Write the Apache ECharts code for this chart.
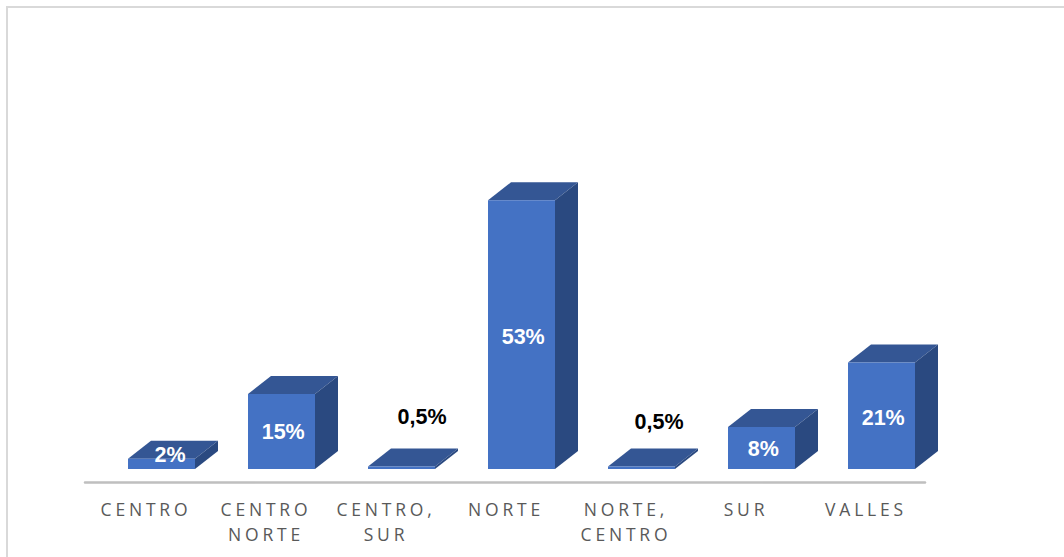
<!DOCTYPE html>
<html>
<head>
<meta charset="utf-8">
<script src="https://cdn.jsdelivr.net/npm/echarts@6/dist/echarts.min.js"></script>
<style>
html,body{margin:0;padding:0;background:#fff;}
#chart{width:1064px;height:557px;}
svg text[fill="#595959"]{letter-spacing:3.8px;}
</style>
</head>
<body>
<div id="chart"></div>
<script>
var categories = ['CENTRO', 'CENTRO NORTE', 'CENTRO, SUR', 'NORTE', 'NORTE, CENTRO', 'SUR', 'VALLES'];
var values = [2, 14.8, 0.5, 53, 0.5, 8.3, 21];

var frontColor = '#4472C4', topColor = '#345694', sideColor = '#2A4980';
var barWidth = 67, depthX = 23, depthY = 18, barShiftX = 16.5;
var labelNudge = [[8.5, -9], [1.7, 1], [20.5, -51], [1.7, 2], [17.5, -46], [1.7, 1], [1.7, 2]];

function label(v) { return (v < 1 ? String(v).replace('.', ',') : Math.round(v)) + '%'; }

function renderBar(params, api) {
  var i = api.value(0), v = api.value(1);
  var base = api.coord([i, 0]), top = api.coord([i, v]);
  var l = base[0] + barShiftX - barWidth / 2, r = l + barWidth;
  var y0 = base[1], y1 = top[1];
  var nudge = labelNudge[i];
  var dark = v < 1;
  return {
    type: 'group',
    children: [
      { type: 'polygon', shape: { points: [[l, y1], [r, y1], [r + depthX, y1 - depthY], [l + depthX, y1 - depthY]] }, style: { fill: topColor } },
      { type: 'polygon', shape: { points: [[r, y0], [r, y1], [r + depthX, y1 - depthY], [r + depthX, y0 - depthY]] }, style: { fill: sideColor } },
      { type: 'rect', shape: { x: l, y: y1, width: barWidth, height: y0 - y1 }, style: { fill: frontColor } },
      { type: 'text', x: (l + r) / 2 + nudge[0], y: (y0 + y1) / 2 + nudge[1], style: {
          text: label(v), fill: dark ? '#000000' : '#ffffff', align: 'center', verticalAlign: 'middle',
          font: 'bold 21.5px "Liberation Sans", Arial, sans-serif' } }
    ]
  };
}

var chart = echarts.init(document.getElementById('chart'), null, { renderer: 'svg' });
chart.setOption({
  animation: false,
  backgroundColor: '#ffffff',
  graphic: [
    { type: 'polyline', shape: { points: [[7, 557], [7, 7], [1064, 7]] }, style: { stroke: '#d9d9d9', lineWidth: 2, fill: 'none' }, silent: true }
  ],
  grid: { left: 85, right: 139, bottom: 88, top: 164.8 },
  xAxis: {
    type: 'category',
    data: categories,
    offset: 13,
    axisTick: { show: false },
    axisLine: { show: true, onZero: false, lineStyle: { color: '#bfbfbf', width: 2.5 } },
    axisLabel: {
      color: '#595959', fontFamily: '"Open Sans", sans-serif', fontSize: 17.5, lineHeight: 25, margin: 14, interval: 0,
      padding: [0, 0, 0, 2],
      formatter: function (s) { return s.replace(' ', '\n'); }
    }
  },
  yAxis: { type: 'value', min: 0, max: 60, show: false },
  series: [{
    type: 'custom',
    renderItem: renderBar,
    encode: { x: 0, y: 1 },
    data: values.map(function (v, i) { return [i, v]; })
  }]
});
</script>
</body>
</html>
